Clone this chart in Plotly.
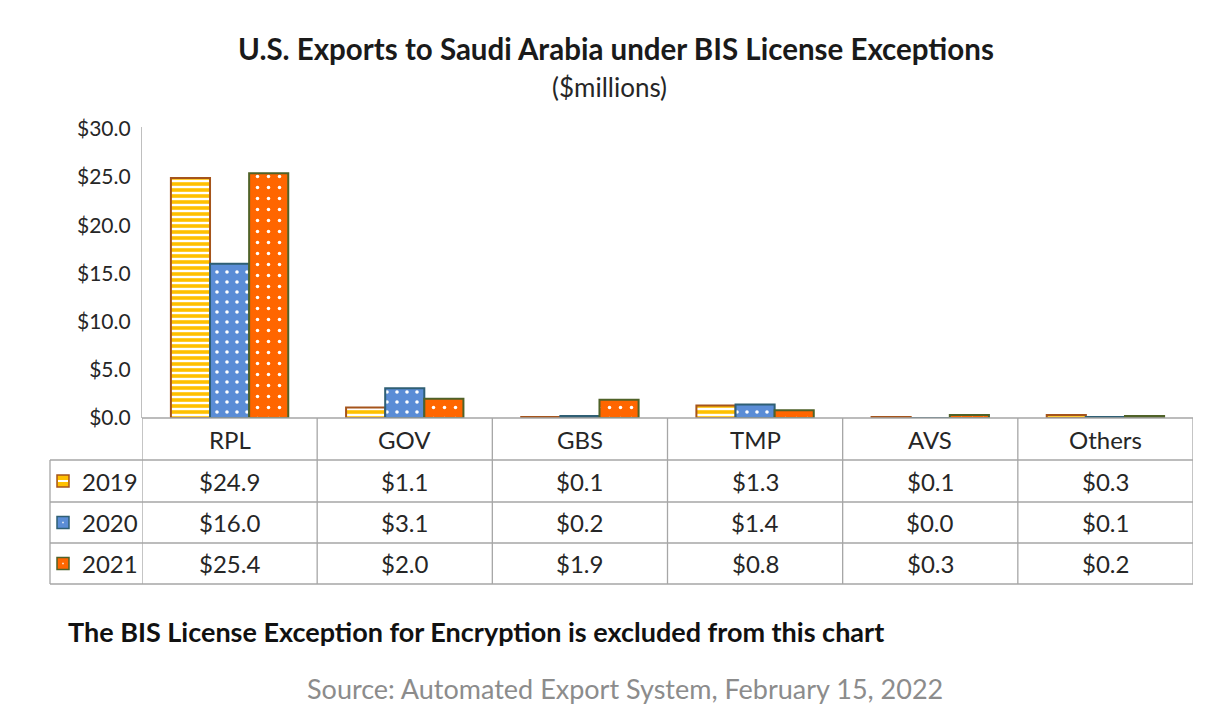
import plotly.graph_objects as go

categories = ["RPL", "GOV", "GBS", "TMP", "AVS", "Others"]
years = ["2019", "2020", "2021"]
v2019 = [24.9, 1.1, 0.1, 1.3, 0.1, 0.3]
v2020 = [16.0, 3.1, 0.2, 1.4, 0.0, 0.1]
v2021 = [25.4, 2.0, 1.9, 0.8, 0.3, 0.2]
yticks = [0, 5, 10, 15, 20, 25, 30]

series = [v2019, v2020, v2021]
OFF = 8  # default page body margin
W, H = 1225, 707
L, R, T, B = 142, 1193, 127, 418
FONT = "Lato"
TXT = "#262626"
GRID = "#A6A6A6"
FS = 24

styles = [
    dict(bg="white", fg="#FFC000", shape="-", size=6, sol=0.6, line="#A5541B"),
    dict(bg="#5B8DD6", fg="white", shape=".", size=10, sol=0.1, line="#2F5F74"),
    dict(bg="#FF6600", fg="white", shape=".", size=11, sol=0.08, line="#4F6228"),
]

fig = go.Figure()
for yr, vals, st in zip(years, series, styles):
    fig.add_trace(go.Bar(
        x=categories, y=vals, name=yr,
        marker=dict(color=st["bg"],
                    line=dict(color=st["line"], width=2),
                    pattern=dict(shape=st["shape"], fgcolor=st["fg"], bgcolor=st["bg"],
                                 fgopacity=1, size=st["size"], solidity=st["sol"],
                                 fillmode="overlay")),
        showlegend=False, hoverinfo="x+y",
    ))


def py(Y):
    return (B - Y) / (B - T)


def px_(X):
    return (X - L) / (R - L)


shapes = []
ann = []
row_lines = [460, 502, 543, 584]
row_centers = [481, 522.5, 563.5]
cat_center = 439

# table lines
shapes.append(dict(type="line", xref="paper", yref="paper", x0=0, x1=1, y0=py(B), y1=py(B),
                   line=dict(color=GRID, width=1.3)))
for Y in row_lines:
    shapes.append(dict(type="line", xref="paper", yref="paper", x0=px_(50), x1=1, y0=py(Y), y1=py(Y),
                       line=dict(color=GRID, width=1.3)))
for i in range(len(categories) + 1):
    shapes.append(dict(type="line", xref="x", yref="paper", x0=i - 0.5, x1=i - 0.5,
                       y0=py(B), y1=py(584), line=dict(color=GRID, width=1.3)))
shapes.append(dict(type="line", xref="paper", yref="paper", x0=px_(50), x1=px_(50),
                   y0=py(460), y1=py(584), line=dict(color=GRID, width=1.3)))
# faint outer frame
shapes.append(dict(type="line", xref="paper", yref="paper", x0=px_(2), x1=px_(W), y0=py(7), y1=py(7),
                   line=dict(color="#E8E8E8", width=1)))
shapes.append(dict(type="line", xref="paper", yref="paper", x0=px_(2), x1=px_(2), y0=py(7), y1=py(H),
                   line=dict(color="#E8E8E8", width=1)))


def text(x, y, s, size=FS, color=TXT, xref="paper", xanchor="center"):
    ann.append(dict(x=x, y=y, xref=xref, yref="paper", text=s, showarrow=False,
                    xanchor=xanchor, yanchor="middle",
                    font=dict(family=FONT, size=size, color=color)))


# category header
for c in categories:
    text(c, py(cat_center), c, xref="x")
# values + legend keys
for yr, vals, st, yc in zip(years, series, styles, row_centers):
    for c, v in zip(categories, vals):
        text(c, py(yc), f"${v:.1f}", xref="x")
    text(px_(80), py(yc), yr, xanchor="left")
    fill = st["fg"] if st["shape"] == "-" else st["bg"]
    shapes.append(dict(type="rect", xref="paper", yref="paper", x0=px_(57), x1=px_(69),
                       y0=py(yc - 6), y1=py(yc + 6), fillcolor=fill,
                       line=dict(color=st["line"], width=1.5)))
    if st["shape"] == "-":
        shapes.append(dict(type="rect", xref="paper", yref="paper", x0=px_(58), x1=px_(68),
                           y0=py(yc - 1), y1=py(yc + 1), fillcolor="white", line=dict(width=0)))
    else:
        shapes.append(dict(type="rect", xref="paper", yref="paper", x0=px_(62.3), x1=px_(63.7),
                           y0=py(yc - 0.7), y1=py(yc + 0.7), fillcolor="white", line=dict(width=0)))

# titles and notes
text(px_(616), py(48), "<b>U.S. Exports to Saudi Arabia under BIS License Exceptions</b>",
     size=29.5, color="#1a1a1a")
text(px_(609), py(87), "($millions)", size=26)
text(px_(66), py(631), "<b>The BIS License Exception for Encryption is excluded from this chart</b>",
     size=27, color="#111111", xanchor="left")
text(px_(625), py(688), "Source: Automated Export System, February 15, 2022", size=27, color="#8C8C8C")

fig.update_layout(
    width=W - OFF, height=H - OFF,
    margin=dict(l=L - OFF, r=W - R, t=T - OFF, b=H - B, pad=0),
    paper_bgcolor="white", plot_bgcolor="white",
    barmode="group", bargap=0.33, bargroupgap=0,
    shapes=shapes, annotations=ann,
    xaxis=dict(showticklabels=False, showline=False, ticks="", showgrid=False, zeroline=False,
               range=[-0.5, len(categories) - 0.5]),
    yaxis=dict(range=[0, 30.2], tickmode="array", tickvals=yticks,
               ticktext=[f"${v:.1f}" for v in yticks],
               showgrid=False, zeroline=False, showline=True, linecolor="#BFBFBF", linewidth=1.3,
               ticks="", ticklabelstandoff=6,
               tickfont=dict(family=FONT, size=21, color=TXT)),
)

fig.write_html("out.html")
